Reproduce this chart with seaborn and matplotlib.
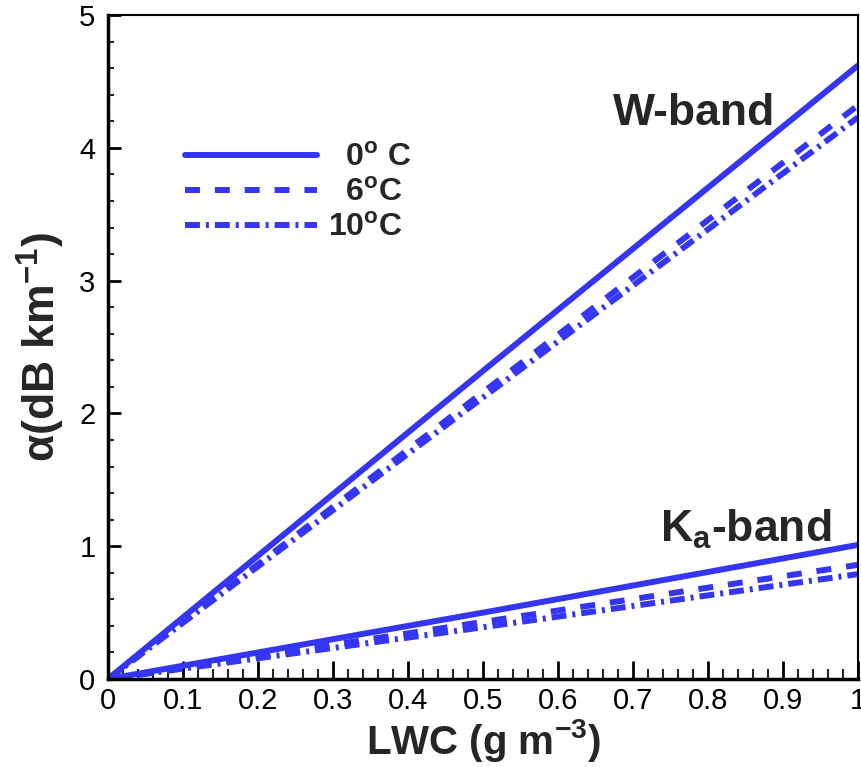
import numpy as np
import pandas as pd
import seaborn as sns
import matplotlib.pyplot as plt

sns.set_theme(style="white")
plt.rcParams['font.family'] = ['Liberation Sans', 'DejaVu Sans']
plt.rcParams['mathtext.fontset'] = 'custom'
plt.rcParams['mathtext.rm'] = 'Liberation Sans'
plt.rcParams['mathtext.bf'] = 'Liberation Sans:bold'

# ------------------------------------------------------------
# DATA
# ------------------------------------------------------------
lwc = [0.0, 0.5, 1.0]
temps = ["0C", "6C", "10C"]
w_band = {
    "0C": [0.0, 2.32, 4.62],
    "6C": [0.0, 2.16, 4.32],
    "10C": [0.0, 2.12, 4.23],
}
ka_band = {
    "0C": [0.0, 0.50, 1.01],
    "6C": [0.0, 0.43, 0.86],
    "10C": [0.0, 0.39, 0.79],
}
legend_labels = [r"  0$^{\mathbf{o}}$ C", r"  6$^{\mathbf{o}}$C", r"10$^{\mathbf{o}}$C"]

rows = []
for band, d in [("W", w_band), ("Ka", ka_band)]:
    for t in temps:
        for x, y in zip(lwc, d[t]):
            rows.append({"band": band, "temp": t, "lwc": x, "alpha": y})
df = pd.DataFrame(rows)

# ------------------------------------------------------------
# PLOT
# ------------------------------------------------------------
blue = "#3535f5"
dash_map = {"0C": "", "6C": (2.5, 2.5), "10C": (2.5, 1.0, 0.5, 1.0)}

fig = plt.figure(figsize=(8.61, 7.67), dpi=100)
ax = fig.add_axes([0.1254, 0.1147, 0.8711, 0.8657])

for band in ["W", "Ka"]:
    sns.lineplot(data=df[df.band == band], x="lwc", y="alpha", style="temp",
                 style_order=temps, dashes=dash_map, color=blue, linewidth=4.3,
                 ax=ax, legend=(band == "W"))

ax.set_xlim(0, 1)
ax.set_ylim(0, 5)
ax.set_xticks(np.arange(0, 1.01, 0.1))
ax.set_xticklabels(["0"] + [f"{v:.1f}" for v in np.arange(0.1, 0.95, 0.1)] + ["1"])
ax.set_xticks(np.arange(0, 1.001, 0.02), minor=True)
ax.set_yticks(range(6))
ax.set_yticks(np.arange(0, 5.01, 0.2), minor=True)

ax.tick_params(axis="x", which="major", direction="in", length=13, width=2,
               labelsize=21, pad=6, bottom=True, colors="black")
ax.tick_params(axis="x", which="minor", direction="in", length=7, width=1.5, bottom=True)
ax.tick_params(axis="y", which="major", direction="in", length=9, width=2,
               labelsize=21, pad=9, left=True, colors="black")
ax.tick_params(axis="y", which="minor", direction="in", length=4.5, width=1.5, left=True)

for side in ["left", "bottom"]:
    ax.spines[side].set_linewidth(2.5)
for side in ["top", "right"]:
    ax.spines[side].set_linewidth(1.5)
for s in ax.spines.values():
    s.set_color("black")

ax.set_xlabel(r"LWC (g m$^{\mathbf{-3}}$)", fontsize=29, fontweight="bold", labelpad=1)
ax.set_ylabel("α(dB km$^{\\mathbf{-1}}$)", fontsize=32, fontweight="bold", labelpad=9)

ax.text(0.889, 0.852, "W-band", transform=ax.transAxes, fontsize=32,
        fontweight="bold", ha="right", va="center")
ax.text(0.965, 0.225, r"K$_\mathbf{a}$-band", transform=ax.transAxes, fontsize=32,
        fontweight="bold", ha="right", va="center")

handles, _ = ax.get_legend_handles_labels()
ax.legend(handles[-3:], legend_labels, loc="upper left", bbox_to_anchor=(0.064, 0.85),
          frameon=False, handlelength=4.13, handletextpad=0.35,
          labelspacing=0.15, prop={"weight": "bold", "size": 23})

fig.savefig("out.png", dpi=100)
